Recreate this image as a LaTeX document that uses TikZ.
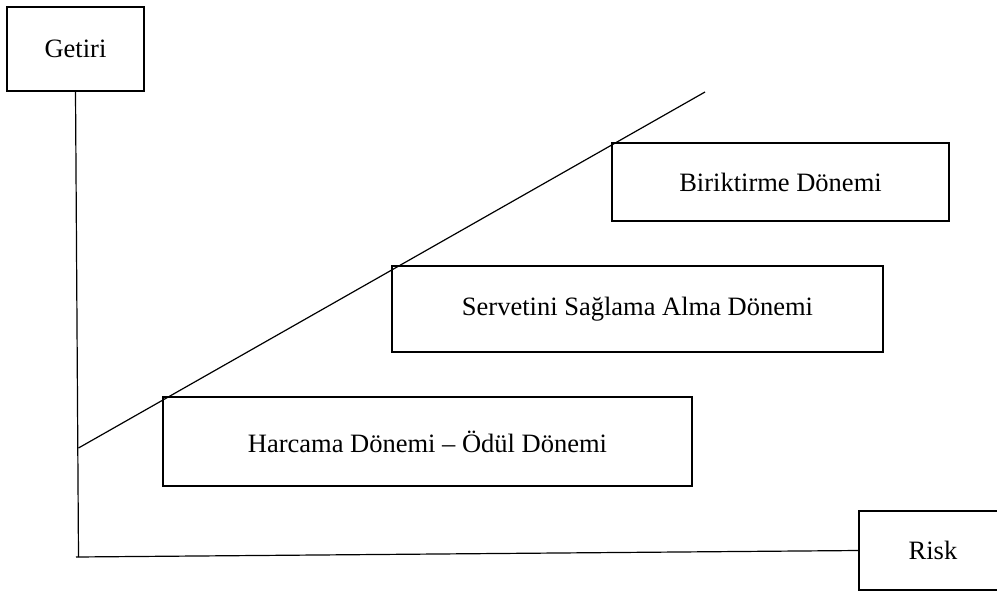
\documentclass[tikz,border=0pt]{standalone}
\usepackage{fontspec}
\setmainfont{Liberation Serif}
\begin{document}
\begin{tikzpicture}[x=1pt,y=-1pt,
  labelbox/.style={draw, line width=2.8pt, inner sep=0pt, outer sep=0pt,
    font=\fontsize{26.5}{30}\selectfont},
  axis/.style={line width=1.2pt},
  trend/.style={line width=1.2pt}]
  \useasboundingbox (0,0) rectangle (997,592);
  \clip (0,0) rectangle (997,592);

  % axis labels
  \node[labelbox, minimum width=137pt, minimum height=84pt] (getiri) at (75.5,49) {Getiri};
  \node[labelbox, minimum width=148pt, minimum height=79pt] (risk) at (933,550.5) {Risk};

  % life-cycle periods
  \node[labelbox, minimum width=337pt, minimum height=78pt] (birik) at (780.5,182) {Biriktirme Dönemi};
  \node[labelbox, minimum width=491pt, minimum height=86pt] (servet) at (637.5,309) {Servetini Sağlama Alma Dönemi};
  \node[labelbox, minimum width=529pt, minimum height=89pt] (harcama) at (427.5,441.5) {Harcama Dönemi – Ödül Dönemi};

  % axes
  \coordinate (origin) at (78.5,557);
  \coordinate (hstart) at (76,557);
  \draw[axis] (getiri.south) -- (origin);
  \draw[axis] (hstart) -- (risk.west);

  % risk-return line
  \coordinate (tstart) at (78.5,448);
  \coordinate (tend) at (705,92);
  \draw[trend] (tstart) -- (tend);
\end{tikzpicture}
\end{document}
